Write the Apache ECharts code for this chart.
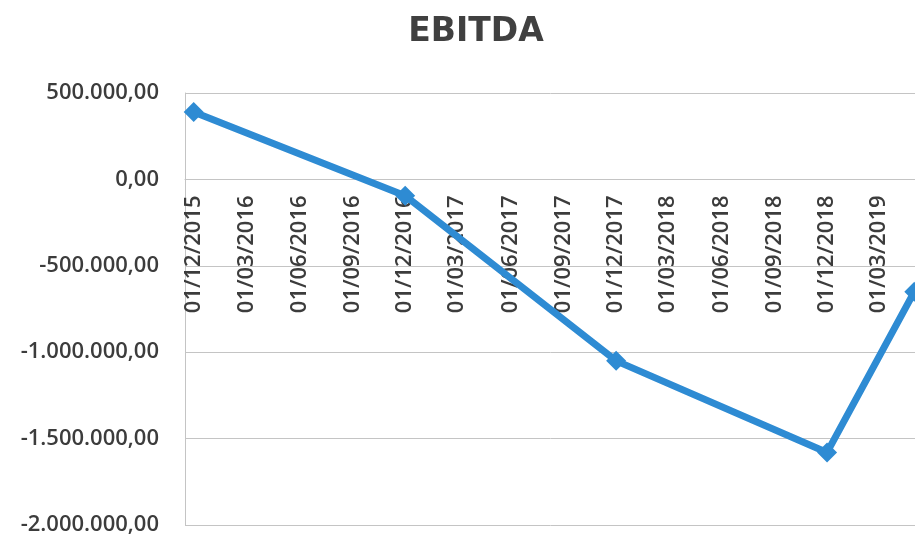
<!DOCTYPE html>
<html>
<head>
<meta charset="utf-8">
<title>EBITDA</title>
<script src="https://cdn.jsdelivr.net/npm/echarts@6/dist/echarts.min.js"></script>
<style>
  html, body { margin: 0; padding: 0; background: #ffffff; }
  #chart { width: 915px; height: 537px; }
</style>
</head>
<body>
<div id="chart"></div>
<script>
// Quarterly date labels along the horizontal axis
const tickDates = [
  '01/12/2015', '01/03/2016', '01/06/2016', '01/09/2016',
  '01/12/2016', '01/03/2017', '01/06/2017', '01/09/2017',
  '01/12/2017', '01/03/2018', '01/06/2018', '01/09/2018',
  '01/12/2018', '01/03/2019'
];
// Reporting dates and EBITDA values
const pointDates = ['01/12/2015', '01/12/2016', '01/12/2017', '01/12/2018', '01/05/2019'];
const ebitda = [390000, -95000, -1050000, -1580000, -650000];
// Visible date window (half a month padding on each side)
const axisRange = ['16/11/2015', '16/05/2019'];
const yMin = -2000000, yMax = 500000, yStep = 500000;

const DAY = 86400000;
function toTime(s) {
  const p = s.split('/').map(Number);
  return Date.UTC(p[2], p[1] - 1, p[0]);
}
const origin = toTime(axisRange[0]);
// x positions are whole days counted from the start of the window
function toDay(s) { return Math.round((toTime(s) - origin) / DAY); }
function pad(n) { return (n < 10 ? '0' : '') + n; }
function fmtDay(v) {
  const d = new Date(origin + Math.round(v) * DAY);
  return pad(d.getUTCDate()) + '/' + pad(d.getUTCMonth() + 1) + '/' + d.getUTCFullYear();
}
function fmtNumber(v) {
  const neg = v < 0;
  const s = Math.abs(Math.round(v)).toString().replace(/\B(?=(\d{3})+(?!\d))/g, '.');
  return (neg ? '-' : '') + s + ',00';
}

const labelFont = '"Open Sans", "Liberation Sans", sans-serif';
const chart = echarts.init(document.getElementById('chart'), null, { renderer: 'canvas' });

chart.setOption({
  animation: false,
  backgroundColor: '#ffffff',
  title: {
    text: 'EBITDA',
    left: 471,
    top: 11,
    textAlign: 'center',
    textStyle: {
      fontFamily: '"DejaVu Sans", sans-serif',
      fontWeight: 'bold',
      fontSize: 33,
      color: '#404040'
    }
  },
  grid: {
    left: 185, top: 93, width: 738, height: 432,
    containLabel: false,
    outerBoundsMode: 'none'
  },
  xAxis: {
    type: 'value',
    position: 'bottom',
    min: 0,
    max: toDay(axisRange[1]),
    axisLine: { onZero: false, lineStyle: { color: '#c4c4c4', width: 1 } },
    axisTick: { show: false },
    splitLine: { show: false },
    axisLabel: {
      customValues: tickDates.map(toDay),
      rotate: 90,
      margin: 16,
      fontFamily: labelFont,
      fontSize: 22,
      fontWeight: 600,
      color: '#3c3c3c',
      formatter: function (v) { return fmtDay(v); }
    }
  },
  yAxis: {
    type: 'value',
    min: yMin,
    max: yMax,
    interval: yStep,
    axisLine: { show: true, onZero: false, lineStyle: { color: '#c4c4c4', width: 1 } },
    axisTick: { show: false },
    splitLine: { show: true, lineStyle: { color: '#c4c4c4', width: 1 } },
    axisLabel: {
      margin: 26,
      fontFamily: labelFont,
      fontSize: 22,
      fontWeight: 600,
      color: '#3c3c3c',
      formatter: fmtNumber
    }
  },
  series: [{
    type: 'line',
    data: pointDates.map((d, i) => [toDay(d), ebitda[i]]),
    symbol: 'diamond',
    symbolSize: 20,
    lineStyle: { color: '#2E8BD3', width: 7 },
    itemStyle: { color: '#2E8BD3' },
    z: 3
  }]
});

// Lift the date axis up to the zero line of the value axis
const zeroY = chart.convertToPixel({ yAxisIndex: 0 }, 0);
const bottomY = chart.convertToPixel({ yAxisIndex: 0 }, yMin);
chart.setOption({ xAxis: { offset: zeroY - bottomY } });
</script>
</body>
</html>
